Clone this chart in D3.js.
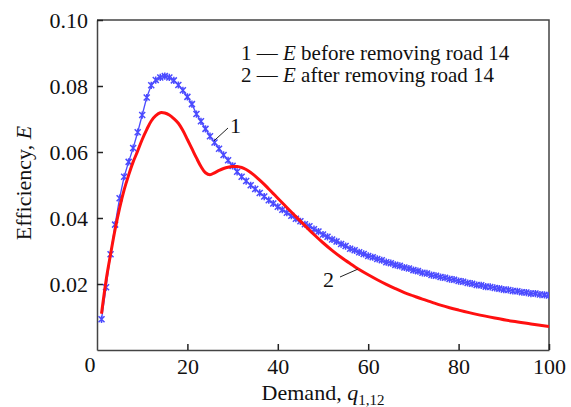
<!DOCTYPE html>
<html>
<head>
<meta charset="utf-8">
<script src="https://cdn.jsdelivr.net/npm/d3@7"></script>
<style>
  body { margin: 0; background: #fff; }
  svg, text, tspan { font-family: "Liberation Serif", "Times New Roman", serif; fill: #111; }
</style>
</head>
<body>
<svg id="chart" width="571" height="407"></svg>
<script>
// demand values q = 1..100 for curve 1
const demandBefore = d3.range(1, 101);
const effBefore = [
  0.0093, 0.0190, 0.0290, 0.0380, 0.0460, 0.0525, 0.0570, 0.0612, 0.0660, 0.0712,
  0.0765, 0.0802, 0.0818, 0.0826, 0.0830, 0.0826, 0.0817, 0.0803, 0.0787, 0.0767,
  0.0745, 0.0715, 0.0693, 0.0670, 0.0648, 0.0629, 0.0610, 0.0591, 0.0575, 0.0558,
  0.0540, 0.0525, 0.0512, 0.0499, 0.0488, 0.0476, 0.0465, 0.0454, 0.0444, 0.0434,
  0.0425, 0.0416, 0.0407, 0.0398, 0.0390, 0.0381, 0.0375, 0.0366, 0.0359, 0.0350,
  0.0343, 0.0335, 0.0329, 0.0321, 0.0315, 0.0307, 0.0302, 0.0296, 0.0291, 0.0285,
  0.0281, 0.0276, 0.0272, 0.0266, 0.0263, 0.0258, 0.0255, 0.0250, 0.0247, 0.0242,
  0.0239, 0.0234, 0.0232, 0.0227, 0.0225, 0.0221, 0.0219, 0.0215, 0.0213, 0.0209,
  0.0207, 0.0203, 0.0201, 0.0197, 0.0196, 0.0192, 0.0191, 0.0188, 0.0186, 0.0183,
  0.0182, 0.0179, 0.0178, 0.0175, 0.0174, 0.0171, 0.0171, 0.0168, 0.0167, 0.0165
];

// curve 2
const demandAfter = [1, 2, 3, 4, 5, 6, 7, 8, 9, 10, 11, 12, 13, 14, 15, 16, 17, 18, 19, 20,
  21, 22, 23, 24, 25, 26, 27, 28, 29, 30, 31, 32, 33, 34, 35, 36, 37, 38, 39, 40,
  42, 44, 46, 48, 50, 52, 54, 56, 58, 60, 62, 64, 66, 68, 70, 72, 74, 76, 78, 80,
  84, 88, 92, 96, 100];
const effAfter = [0.0110, 0.0210, 0.0290, 0.0365, 0.0430, 0.0485, 0.0530, 0.0570, 0.0603, 0.0638,
  0.0668, 0.0694, 0.0710, 0.0719, 0.0718, 0.0712, 0.0701, 0.0687, 0.0665, 0.0638,
  0.0610, 0.0582, 0.0556, 0.0537, 0.0531, 0.0537, 0.0544, 0.0550, 0.0554, 0.0556,
  0.0556, 0.0553, 0.0547, 0.0538, 0.0527, 0.0515, 0.0502, 0.0488, 0.0474, 0.0460,
  0.0432, 0.0404, 0.0377, 0.0350, 0.0325, 0.0302, 0.0281, 0.0262, 0.0244, 0.0228,
  0.0213, 0.0199, 0.0186, 0.0174, 0.0164, 0.0154, 0.0145, 0.0136, 0.0128, 0.0121,
  0.0108, 0.0097, 0.0087, 0.0079, 0.0071];

const xTicks = [20, 40, 60, 80, 100];
const yTicks = [0.02, 0.04, 0.06, 0.08, 0.10];

const serif = '"Liberation Serif", "Times New Roman", serif';
const margin = {top: 20, right: 22, bottom: 57, left: 97};
const svg = d3.select("#chart"),
  width = +svg.attr("width") - margin.left - margin.right,
  height = +svg.attr("height") - margin.top - margin.bottom;

const g = svg.append("g").attr("transform", `translate(${margin.left},${margin.top})`);

const x = d3.scaleLinear().domain([0, 100]).range([0, width]);
const y = d3.scaleLinear().domain([0, 0.10]).range([height, 0]);

g.append("defs").append("clipPath").attr("id", "clip")
  .append("rect").attr("width", width).attr("height", height);

// frame (top + right)
g.append("path")
  .attr("d", `M0,0H${width}V${height}`)
  .attr("fill", "none").attr("stroke", "#444").attr("stroke-width", 1.5);

// axes with inward ticks
const xAxis = g.append("g")
  .attr("transform", `translate(0,${height})`)
  .call(d3.axisBottom(x).tickValues(xTicks).tickSizeInner(-6).tickSizeOuter(0).tickPadding(8));
const yAxis = g.append("g")
  .call(d3.axisLeft(y).tickValues(yTicks).tickFormat(d3.format(".2f")).tickSizeInner(-6).tickSizeOuter(0).tickPadding(9));

[xAxis, yAxis].forEach(a => {
  a.attr("font-family", serif);
  a.select(".domain").attr("stroke", "#444").attr("stroke-width", 1.5);
  a.selectAll(".tick line").attr("stroke", "#222").attr("stroke-width", 1.5);
  a.selectAll("text").style("font-family", serif)
    .style("font-size", "22px").attr("fill", "#111");
});

// origin label
g.append("text")
  .attr("x", x(0) - 7).attr("y", height + 22)
  .attr("text-anchor", "middle").style("font-size", "22px").text("0");

// curves
const plot = g.append("g").attr("clip-path", "url(#clip)");

const blueData = demandBefore.map((q, i) => [q, effBefore[i]]);
const redData = demandAfter.map((q, i) => [q, effAfter[i]]);

plot.append("path")
  .datum(blueData)
  .attr("fill", "none").attr("stroke", "#4b4bff").attr("stroke-width", 1.3)
  .attr("d", d3.line().x(d => x(d[0])).y(d => y(d[1])));

// asterisk markers
const s = 3;
plot.append("g").selectAll("path")
  .data(blueData)
  .join("path")
    .attr("transform", d => `translate(${x(d[0])},${y(d[1])})`)
    .attr("d", `M${-s},${-s}L${s},${s}M${-s},${s}L${s},${-s}M0,${-s - 0.6}V${s + 0.6}`)
    .attr("stroke", "#4b4bff").attr("stroke-width", 1.5).attr("fill", "none");

plot.append("path")
  .datum(redData)
  .attr("fill", "none").attr("stroke", "#ff1010").attr("stroke-width", 3)
  .attr("stroke-linejoin", "round")
  .attr("d", d3.line().curve(d3.curveCatmullRom).x(d => x(d[0])).y(d => y(d[1])));

// curve labels with leaders
g.append("line").attr("x1", x(25.9)).attr("y1", y(0.0634)).attr("x2", 131).attr("y2", 108)
  .attr("stroke", "#222").attr("stroke-width", 1);
g.append("text").attr("x", 133).attr("y", 113).style("font-size", "22px").text("1");

g.append("line").attr("x1", x(57.7)).attr("y1", y(0.0245)).attr("x2", 243).attr("y2", 257)
  .attr("stroke", "#222").attr("stroke-width", 1);
g.append("text").attr("x", 226).attr("y", 267).style("font-size", "22px").text("2");

// legend
const legend = [
  {n: "1", rest: " before removing road 14"},
  {n: "2", rest: " after removing road 14"}
];
legend.forEach((d, i) => {
  const t = g.append("text").attr("x", 144).attr("y", 40 + i * 22)
    .style("font-family", serif).style("font-size", "21px");
  t.append("tspan").style("font-family", serif).text(d.n + " \u2014 ");
  t.append("tspan").style("font-family", serif).style("font-style", "italic").text("E");
  t.append("tspan").style("font-family", serif).text(d.rest);
});

// axis titles
const xt = g.append("text")
  .attr("x", x(50)).attr("y", height + 50)
  .attr("text-anchor", "middle").style("font-size", "22px");
xt.append("tspan").text("Demand, ");
xt.append("tspan").style("font-style", "italic").text("q");
xt.append("tspan").attr("dy", 5).style("font-size", "15px").text("1,12");

const yt = g.append("text")
  .attr("transform", `translate(-66,${height / 2 - 2}) rotate(-90)`)
  .attr("text-anchor", "middle").style("font-size", "22px");
yt.append("tspan").text("Efficiency, ");
yt.append("tspan").style("font-style", "italic").text("E");
</script>
</body>
</html>
